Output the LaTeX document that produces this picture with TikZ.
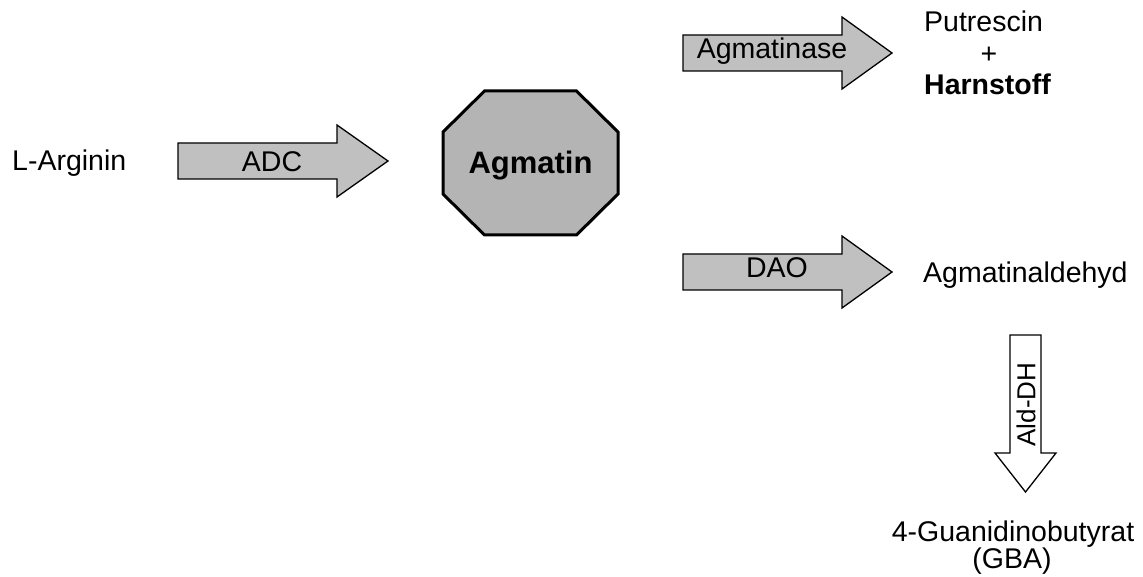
\documentclass[tikz,border=0pt]{standalone}
\usepackage{fontspec}
\setmainfont{Liberation Sans}
\usetikzlibrary{calc}
\definecolor{arrowgray}{HTML}{C0C0C0}
\definecolor{octgray}{HTML}{B4B4B4}
\begin{document}
\begin{tikzpicture}[x=1pt,y=-1pt,
  lbl/.style={inner sep=0pt, font=\fontsize{28.5}{34}\selectfont},
  lblb/.style={inner sep=0pt, font=\fontsize{28.5}{34}\selectfont\bfseries},
  blockarrow/.style={draw=black, line width=1.3pt, fill=arrowgray, line join=miter},
  whitearrow/.style={draw=black, line width=1.3pt, fill=white, line join=miter},
  octagon/.style={draw=black, line width=3pt, fill=octgray, line join=miter}]
\useasboundingbox (0,0) rectangle (1143,577);

% arrow end points
\coordinate (adcTail) at (178,161);
\coordinate (adcTip) at (388,161);
\coordinate (agmTail) at (683,53);
\coordinate (agmTip) at (892,53);
\coordinate (daoTail) at (683,272);
\coordinate (daoTip) at (892,272);
\coordinate (aldTail) at (1025.5,335);
\coordinate (aldTip) at (1025.5,492);

% block arrows (shaft half 18, head half 36)
\draw[blockarrow] ($(adcTail)+(0,-18)$) -- ($(adcTip)+(-51,-18)$) -- ($(adcTip)+(-51,-36)$) -- (adcTip)
  -- ($(adcTip)+(-51,36)$) -- ($(adcTip)+(-51,18)$) -- ($(adcTail)+(0,18)$) -- cycle;
\draw[blockarrow] ($(agmTail)+(0,-18)$) -- ($(agmTip)+(-50,-18)$) -- ($(agmTip)+(-50,-36)$) -- (agmTip)
  -- ($(agmTip)+(-50,36)$) -- ($(agmTip)+(-50,18)$) -- ($(agmTail)+(0,18)$) -- cycle;
\draw[blockarrow] ($(daoTail)+(0,-18)$) -- ($(daoTip)+(-50,-18)$) -- ($(daoTip)+(-50,-36)$) -- (daoTip)
  -- ($(daoTip)+(-50,36)$) -- ($(daoTip)+(-50,18)$) -- ($(daoTail)+(0,18)$) -- cycle;
\draw[whitearrow] ($(aldTail)+(-15.5,0)$) -- ($(aldTip)+(-15.5,-39)$) -- ($(aldTip)+(-30.5,-39)$) -- (aldTip)
  -- ($(aldTip)+(30.5,-39)$) -- ($(aldTip)+(15.5,-39)$) -- ($(aldTail)+(15.5,0)$) -- cycle;

% octagon
\coordinate (octC) at (530.5,163);
\draw[octagon] ($(octC)+(-46,-72)$) -- ($(octC)+(46,-72)$) -- ($(octC)+(87.5,-31)$) -- ($(octC)+(87.5,31)$)
  -- ($(octC)+(46,72)$) -- ($(octC)+(-46,72)$) -- ($(octC)+(-87.5,31)$) -- ($(octC)+(-87.5,-31)$) -- cycle;

% texts
\node[lbl, anchor=base west] (arginin) at (12,171) {L-Arginin};
\node[lbl, anchor=base] (adc) at (272,172) {ADC};
\node[inner sep=0pt, font=\fontsize{31}{36}\selectfont\bfseries, anchor=base] (agmatin) at (530.5,174) {Agmatin};
\node[lbl, anchor=base] (agmatinase) at (772,59) {Agmatinase};
\node[lbl, anchor=base] (dao) at (777,278) {DAO};
\node[inner sep=0pt, font=\fontsize{26}{30}\selectfont, rotate=90] (alddh) at (1026,404.5) {Ald-DH};
\node[lbl, anchor=base west] (putrescin) at (924,32) {Putrescin};
\node[lbl, anchor=base] (plus) at (989,64) {+};
\node[lblb, anchor=base west] (harnstoff) at (924,95) {Harnstoff};
\node[lbl, anchor=base west] (aldehyd) at (923,283) {Agmatinaldehyd};
\node[lbl, anchor=base] (gba1) at (1013,541) {4-Guanidinobutyrat};
\node[lbl, anchor=base] (gba2) at (1012,568) {(GBA)};
\end{tikzpicture}
\end{document}
